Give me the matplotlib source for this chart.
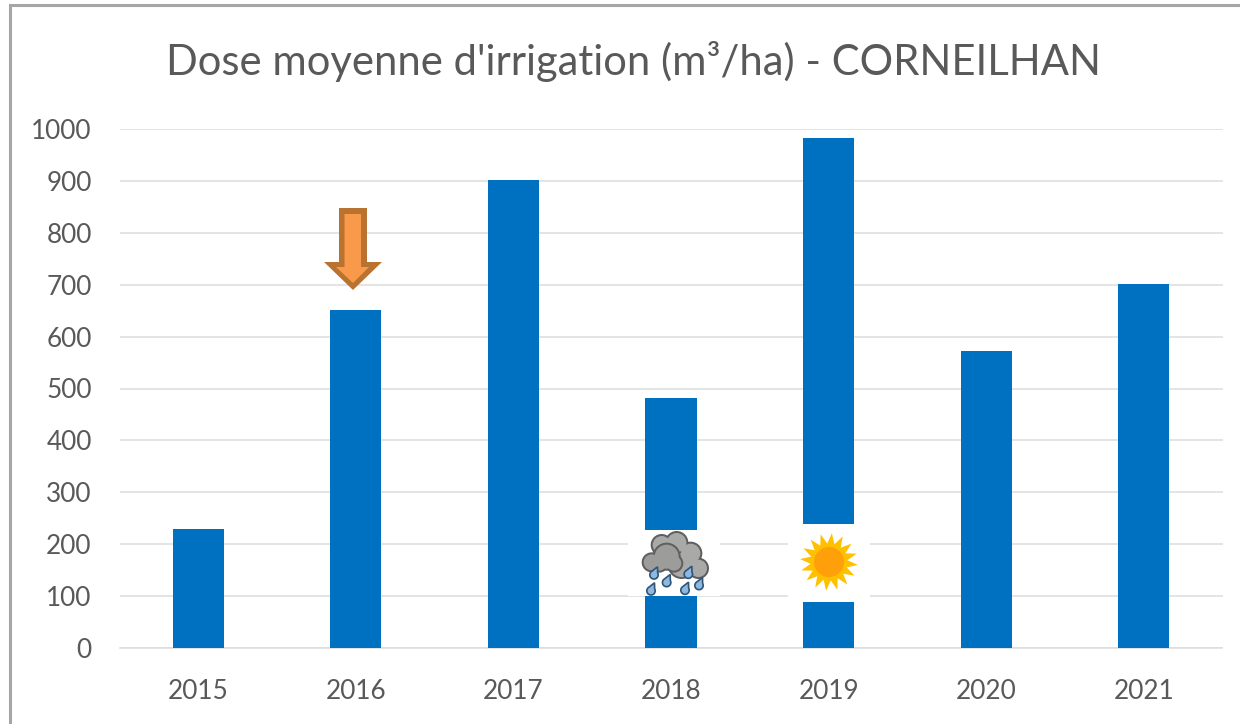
import numpy as np
import matplotlib
matplotlib.use('Agg')
import matplotlib.pyplot as plt
from matplotlib.patches import Polygon, Rectangle, Circle

plt.rcParams['font.family'] = ['Lato', 'DejaVu Sans']

# Data
years = ['2015', '2016', '2017', '2018', '2019', '2020', '2021']
dose = [229, 652, 901, 482, 982, 572, 702]
yticks = [0, 100, 200, 300, 400, 500, 600, 700, 800, 900, 1000]

W, H = 1240, 724
blue = '#0070C0'
grey = '#595959'
gridc = '#DDDDDD'

fig = plt.figure(figsize=(W / 100, H / 100), dpi=100)
ax = fig.add_axes([119.5 / W, 1 - 648 / H, (1222.5 - 119.5) / W, (648 - 129) / H])

ax.bar(range(len(years)), dose, width=0.325, color=blue, zorder=3)
ax.set_xlim(-0.5, len(years) - 0.5)
ax.set_ylim(0, 1000)
ax.set_yticks(yticks)
ax.set_xticks(range(len(years)))
ax.set_xticklabels(years)
ax.tick_params(axis='both', length=0, labelsize=18.8, labelcolor=grey)
ax.tick_params(axis='x', pad=22)
ax.tick_params(axis='y', pad=20)
ax.grid(axis='y', color=gridc, lw=1.1, zorder=0)
ax.set_axisbelow(True)
for s in ['top', 'right', 'left']:
    ax.spines[s].set_visible(False)
ax.spines['bottom'].set_color(gridc)
ax.spines['bottom'].set_linewidth(1.1)

# Overlay in image pixels for the frame, title and pasted icons
ov = fig.add_axes([0, 0, 1, 1], facecolor='none')
ov.set_xlim(0, W)
ov.set_ylim(H, 0)
ov.axis('off')

ov.plot([9.5, 9.5, W], [H, 4.5, 4.5], color='#A6A6A6', lw=2.2, solid_joinstyle='miter')
ov.text(634, 61, "Dose moyenne d'irrigation (m³/ha) - CORNEILHAN",
        ha='center', va='center', fontsize=30.1, color=grey)

# Arrow above 2016
ov.add_patch(Polygon([(339, 208), (367, 208), (367, 262), (382, 262), (353, 290),
                      (324, 262), (339, 262)], fc='#B9722F', ec='none', zorder=5))
ov.add_patch(Polygon([(344.5, 214), (361, 214), (361, 267), (369, 267), (353, 283),
                      (336, 267), (344.5, 267)], fc='#F9994A', ec='none', zorder=6))

# White backgrounds of the pasted icons
ov.add_patch(Rectangle((628, 530), 92, 66, fc='white', ec='none', zorder=4))
ov.add_patch(Rectangle((788, 524), 82, 78, fc='white', ec='none', zorder=4))


# Rain cloud, positions measured on the 3x zoom crop
def zx(v):
    return 600 + v / 3


def zy(v):
    return 500 + v / 3


def lobes(items, z, fill):
    for cx, cy, r in items:
        ov.add_patch(Circle((zx(cx), zy(cy)), r / 3, fc='#5F5F5F', ec='none', zorder=z))
    for cx, cy, r in items:
        ov.add_patch(Circle((zx(cx), zy(cy)), (r - 6) / 3, fc=fill, ec='none', zorder=z + 0.1))


lobes([(185, 135, 33), (230, 128, 35), (272, 160, 35), (295, 205, 32), (245, 195, 42)], 5, '#A9A9A7')
lobes([(155, 187, 30), (200, 170, 42), (222, 190, 28), (178, 192, 26)], 6, '#9C9C9A')

# Rain drops
for cx, cy in [(162, 220), (200, 243), (153, 268), (265, 218), (297, 252), (255, 266)]:
    x0, y0 = zx(cx), zy(cy)
    t = np.radians(np.linspace(-30, 240, 24))
    pts = [(x0 + 4.2 * np.cos(a), y0 + 1.5 + 4.2 * np.sin(a)) for a in t]
    pts.append((x0 + 3.5, y0 - 6.5))
    ov.add_patch(Polygon(pts, fc='#8FB8E0', ec='#2F5577', lw=1.2, zorder=7))

# Sun
n_rays = 16
ang = np.linspace(0, 2 * np.pi, 2 * n_rays, endpoint=False) + 0.1
rad = np.where(np.arange(2 * n_rays) % 2 == 0, 29, 18.5)
ov.add_patch(Polygon(np.column_stack([829 + rad * np.cos(ang), 562 + rad * np.sin(ang)]),
                     fc='#FFC000', ec='none', zorder=5))
ov.add_patch(Circle((829, 562), 15, fc='#FF9F0A', ec='none', zorder=6))

plt.savefig('out.png', dpi=100)
